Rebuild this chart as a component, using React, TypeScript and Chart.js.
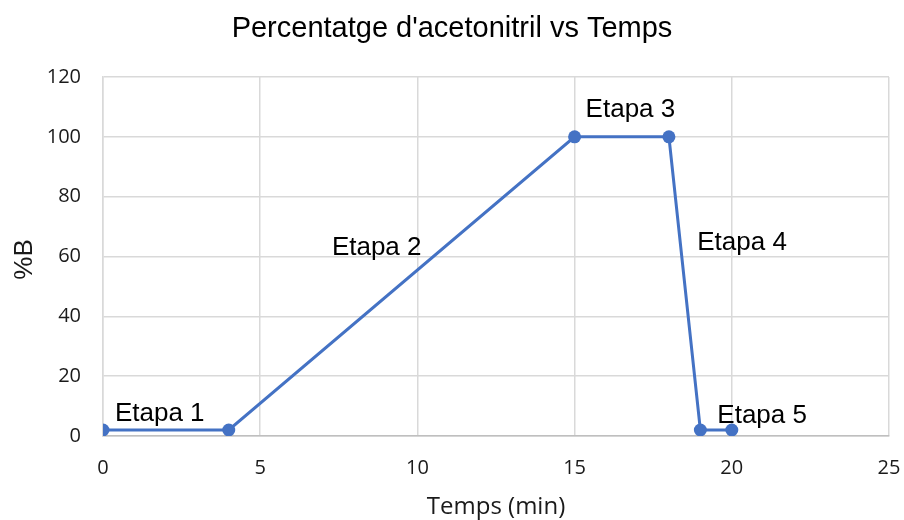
import React, { useEffect, useRef } from "react";
import { Chart, registerables } from "chart.js";

Chart.register(...registerables);

const timeValues = [0, 4, 15, 18, 19, 20];
const percentValues = [2, 2, 100, 100, 2, 2];

const stageLabels = ["Etapa 1", "Etapa 2", "Etapa 3", "Etapa 4", "Etapa 5"];
const stageLabelX = [0.38, 7.28, 15.35, 18.9, 19.54];
const stageLabelY = [5.1, 60.4, 106.7, 62.1, 4.2];

const chartTitle = "Percentatge d'acetonitril vs Temps";
const xTitle = "Temps (min)";
const yTitle = "%B";

const textPlugin = {
  id: "textPlugin",
  afterDraw(chart: any) {
    const ctx = chart.ctx;
    const xs = chart.scales.x;
    const ys = chart.scales.y;
    const area = chart.chartArea;
    ctx.save();
    ctx.fillStyle = "#000000";
    // title
    ctx.font = "29px 'Liberation Sans', Arial, sans-serif";
    ctx.textAlign = "center";
    ctx.textBaseline = "alphabetic";
    ctx.fillText(chartTitle, 452, 37);
    // stage labels
    ctx.font = "26px 'Liberation Sans', Arial, sans-serif";
    ctx.textAlign = "left";
    for (let i = 0; i < stageLabels.length; i++) {
      ctx.fillText(stageLabels[i], xs.getPixelForValue(stageLabelX[i]), ys.getPixelForValue(stageLabelY[i]));
    }
    // x title
    ctx.fillStyle = "#1a1a1a";
    ctx.font = "24px 'Open Sans', sans-serif";
    ctx.textAlign = "center";
    ctx.fillText(xTitle, (area.left + area.right) / 2, 514);
    // y title
    ctx.font = "26px 'Liberation Sans', Arial, sans-serif";
    ctx.translate(32, (area.top + area.bottom) / 2 + 3);
    ctx.rotate(-Math.PI / 2);
    ctx.textAlign = "center";
    ctx.fillText(yTitle, 0, 0);
    ctx.restore();
  },
};

export default function App() {
  const ref = useRef<HTMLCanvasElement | null>(null);
  useEffect(() => {
    if (!ref.current) return;
    const chart = new Chart(ref.current, {
      type: "scatter",
      data: {
        datasets: [
          {
            data: timeValues.map((t, i) => ({ x: t, y: percentValues[i] })),
            showLine: true,
            borderColor: "#4472C4",
            backgroundColor: "#4472C4",
            borderWidth: 3,
            pointRadius: 6.5,
            pointHoverRadius: 6.5,
            pointBackgroundColor: "#4472C4",
            pointBorderColor: "#4472C4",
            pointBorderWidth: 0,
          },
        ],
      },
      options: {
        animation: false,
        responsive: false,
        maintainAspectRatio: false,
        layout: { padding: { top: 77, right: 15, left: 0, bottom: 0 } },
        plugins: {
          legend: { display: false },
          title: { display: false },
          tooltip: { enabled: false },
        },
        scales: {
          x: {
            type: "linear",
            min: 0,
            max: 25,
            ticks: {
              stepSize: 5,
              padding: 20,
              color: "#1a1a1a",
              font: { family: "'Open Sans', sans-serif", size: 20 },
            },
            grid: { color: "#d9d9d9", lineWidth: 1.5, drawTicks: false },
            border: { display: true, color: "#bfbfbf", width: 1.5 },
            afterFit: (s: any) => {
              s.height = 84;
              s.paddingLeft = 0;
              s.paddingRight = 0;
            },
          },
          y: {
            type: "linear",
            min: 0,
            max: 120,
            ticks: {
              stepSize: 20,
              padding: 22,
              color: "#1a1a1a",
              font: { family: "'Open Sans', sans-serif", size: 20 },
            },
            grid: { color: "#d9d9d9", lineWidth: 1.5, drawTicks: false },
            border: { display: true, color: "#d9d9d9", width: 1.5 },
            afterFit: (s: any) => {
              s.width = 103;
              s.paddingTop = 0;
              s.paddingBottom = 0;
            },
          },
        },
      },
      plugins: [textPlugin],
    });
    return () => chart.destroy();
  }, []);
  return (
    <div style={{ position: "absolute", left: 0, top: 0, width: 904, height: 520, background: "#fff" }}>
      <canvas ref={ref} width={904} height={520} style={{ display: "block" }} />
    </div>
  );
}
